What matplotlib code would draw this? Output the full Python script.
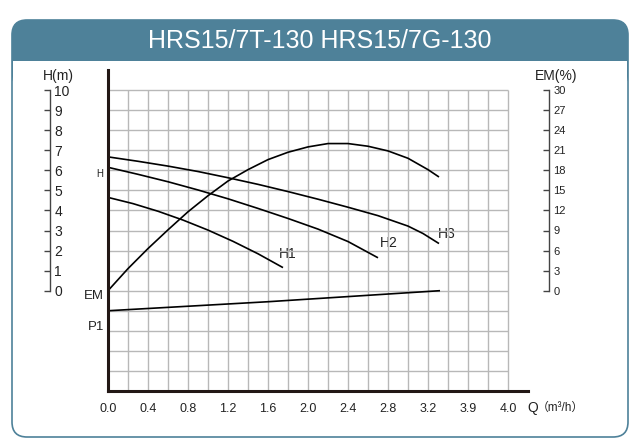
import numpy as np
import matplotlib
matplotlib.use("Agg")
import matplotlib.pyplot as plt
from matplotlib.patches import FancyBboxPatch, Rectangle

plt.rcParams['font.family'] = ['Liberation Sans', 'Noto Sans CJK SC', 'DejaVu Sans']

# ---------------- data ----------------
title = "HRS15/7T-130 HRS15/7G-130"
xtick_vals = [0.0, 0.4, 0.8, 1.2, 1.6, 2.0, 2.4, 2.8, 3.2, 3.6, 4.0]
xtick_labels = ["0.0", "0.4", "0.8", "1.2", "1.6", "2.0", "2.4", "2.8", "3.2", "3.9", "4.0"]
h_ticks = list(range(0, 11))
em_ticks = list(range(0, 31, 3))

q_h1 = [0.0, 0.25, 0.5, 0.75, 1.0, 1.25, 1.5, 1.75]
h1 = [4.65, 4.34, 3.96, 3.52, 3.02, 2.46, 1.84, 1.15]

q_h2 = [0.0, 0.3, 0.6, 0.9, 1.2, 1.5, 1.8, 2.1, 2.4, 2.7]
h2 = [6.15, 5.80, 5.43, 5.02, 4.58, 4.10, 3.60, 3.07, 2.45, 1.64]

q_h3 = [0.0, 0.3, 0.6, 0.9, 1.2, 1.5, 1.8, 2.1, 2.4, 2.7, 3.0, 3.15, 3.31]
h3 = [6.67, 6.45, 6.21, 5.94, 5.63, 5.30, 4.94, 4.56, 4.16, 3.74, 3.22, 2.85, 2.35]

q_em = [0.0, 0.2, 0.4, 0.6, 0.8, 1.0, 1.2, 1.4, 1.6, 1.8, 2.0, 2.2, 2.4, 2.6, 2.8, 3.0, 3.2, 3.31]
em = [0.0, 3.3, 6.3, 9.1, 11.8, 14.2, 16.4, 18.1, 19.6, 20.7, 21.5, 22.0, 22.0, 21.6, 20.9, 19.8, 18.1, 17.0]

q_p1 = [0.0, 1.6, 3.32]
p1 = [-1.0, -0.55, 0.0]   # drawn in H-axis units (no scale shown)

# ---------------- layout ----------------
W, H = 642, 445
fig = plt.figure(figsize=(W / 100, H / 100), dpi=100)

def fx(x):
    return x / W

def fy(y):
    return 1 - y / H

blue = "#4e8199"
dark = "#231815"

# background / frame axes
bg = fig.add_axes([0, 0, 1, 1], zorder=0)
bg.set_xlim(0, W)
bg.set_ylim(H, 0)
bg.axis("off")
bg.add_patch(FancyBboxPatch((12, 20), 616, 70, boxstyle="round,pad=0,rounding_size=15",
                            facecolor=blue, edgecolor="none"))
bg.add_patch(Rectangle((13, 61), 614, 40, facecolor="white", edgecolor="none"))
bg.add_patch(FancyBboxPatch((12, 20), 616, 417, boxstyle="round,pad=0,rounding_size=15",
                            facecolor="none", edgecolor=blue, linewidth=1.2))
bg.text(320, 41, title, color="white", fontsize=18, ha="center", va="center")

# main axes: x 0..4.2 -> px 108..528 ; y -5..11 -> px 391..70
ax_l, ax_r, ax_t, ax_b = 108, 528, 70, 391
ax = fig.add_axes([fx(ax_l), fy(ax_b), (ax_r - ax_l) / W, (ax_b - ax_t) / H], zorder=1)
ax.set_xlim(0, 4.2)
ax.set_ylim(-5, 11)
ax.patch.set_alpha(0)

grid_x = np.arange(0.2, 4.01, 0.2)
grid_y = np.arange(-4, 10.01, 1)
ax.vlines(grid_x, -5, 10, colors="#b8b8b8", linewidth=1.0, zorder=1)
ax.hlines(grid_y, 0, 4.0, colors="#b8b8b8", linewidth=1.0, zorder=1)

for s in ["top", "right"]:
    ax.spines[s].set_visible(False)
for s in ["left", "bottom"]:
    ax.spines[s].set_color(dark)
    ax.spines[s].set_linewidth(2.2)
    ax.spines[s].set_zorder(3)

ax.set_xticks(xtick_vals)
ax.set_xticklabels(xtick_labels, fontsize=9, color="#222222")
ax.tick_params(axis="x", length=0, pad=9)
ax.set_yticks([])

lw = 1.2
kw = dict(color="black", lw=lw, zorder=2, solid_joinstyle="round", solid_capstyle="butt")
ax.plot(q_h1, h1, **kw)
ax.plot(q_h2, h2, **kw)
ax.plot(q_h3, h3, **kw)
ax.plot(q_em, np.array(em) / 3.0, **kw)
ax.plot(q_p1, p1, **kw)

# left H scale
axL = fig.add_axes([fx(50) - 0.0005, fy(ax_b), 0.0005, (ax_b - ax_t) / H], zorder=1)
axL.set_ylim(-5, 11)
axL.patch.set_alpha(0)
for s in ["top", "left", "bottom"]:
    axL.spines[s].set_visible(False)
axL.spines["right"].set_bounds(0, 10)
axL.spines["right"].set_color("#444444")
axL.spines["right"].set_linewidth(1.0)
axL.set_xticks([])
axL.yaxis.tick_right()
axL.set_yticks(h_ticks)
axL.set_yticklabels([str(v) for v in h_ticks], fontsize=10, color="#222222")
axL.tick_params(axis="y", direction="in", length=4, width=1.0, color="#444444", pad=3)

# right EM scale
axR = fig.add_axes([fx(549) - 0.0005, fy(ax_b), 0.0005, (ax_b - ax_t) / H], zorder=1)
axR.set_ylim(-15, 33)
axR.patch.set_alpha(0)
for s in ["top", "left", "bottom"]:
    axR.spines[s].set_visible(False)
axR.spines["right"].set_bounds(0, 30)
axR.spines["right"].set_color("#444444")
axR.spines["right"].set_linewidth(1.0)
axR.set_xticks([])
axR.yaxis.tick_right()
axR.set_yticks(em_ticks)
axR.set_yticklabels([str(v) for v in em_ticks], fontsize=8, color="#222222")
axR.tick_params(axis="y", direction="in", length=4, width=1.0, color="#444444", pad=3)

# texts
tc = "#222222"
bg.text(58, 76, "H(m)", fontsize=10, ha="center", va="center", color=tc)
bg.text(556, 76, "EM(%)", fontsize=10, ha="center", va="center", color=tc)
bg.text(100, 174, "H", fontsize=7, ha="center", va="center", color=tc)
bg.text(94, 296, "EM", fontsize=9.5, ha="center", va="center", color=tc)
bg.text(96, 327, "P1", fontsize=9.5, ha="center", va="center", color=tc)
bg.text(288, 254, "H1", fontsize=10, ha="center", va="center", color=tc)
bg.text(389, 243, "H2", fontsize=10, ha="center", va="center", color=tc)
bg.text(447, 234, "H3", fontsize=10, ha="center", va="center", color=tc)
bg.text(527, 408, "Q", fontsize=10, ha="left", va="center", color=tc)
bg.text(537, 408, "（m³/h）", fontsize=8.5, ha="left", va="center", color=tc)

fig.savefig("out.png", dpi=100)
